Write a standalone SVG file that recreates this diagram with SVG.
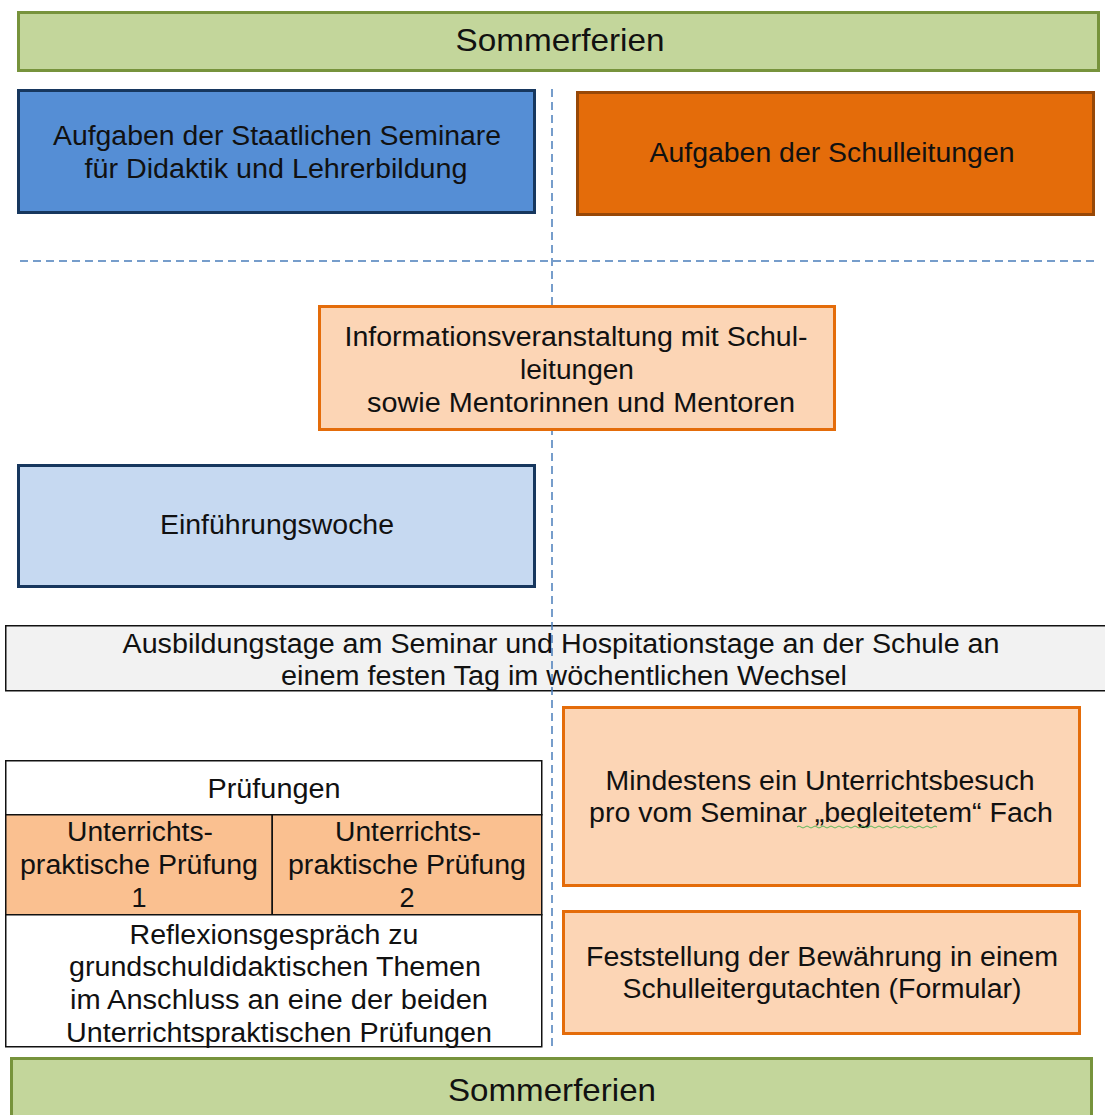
<svg xmlns="http://www.w3.org/2000/svg" width="1105" height="1115" viewBox="0 0 1105 1115">
<style>
text{font-family:"Liberation Sans",Arial,sans-serif;font-size:27px;fill:#111;text-anchor:middle}
.green{fill:#c3d69b;stroke:#77933c;stroke-width:3}
.dblue{fill:#558ed5;stroke:#17375e;stroke-width:3}
.lblue{fill:#c6d9f1;stroke:#17375e;stroke-width:3}
.dorange{fill:#e46c0a;stroke:#984807;stroke-width:3}
.lorange{fill:#fcd5b5;stroke:#e46c0a;stroke-width:3}
.grey{fill:#f2f2f2;stroke:#111;stroke-width:1.5}
.cell{fill:#fff;stroke:#111;stroke-width:1.5}
.ocell{fill:#fac090;stroke:#111;stroke-width:1.5}
.dash{stroke:#4a7ebb;stroke-width:1.5;stroke-dasharray:8 5;fill:none}
.big{font-size:32px}
</style>
<g id="sommer-top"><rect class="green" x="18.5" y="12.5" width="1080" height="58"/><text class="big" x="560" y="51" textLength="209" lengthAdjust="spacingAndGlyphs">Sommerferien</text></g>
<g id="seminare"><rect class="dblue" x="18.5" y="90.5" width="516" height="122"/><text x="277" y="145" textLength="448" lengthAdjust="spacingAndGlyphs">Aufgaben der Staatlichen  Seminare</text><text x="276" y="178" textLength="383" lengthAdjust="spacingAndGlyphs">für Didaktik und Lehrerbildung</text></g>
<g id="schulleitungen"><rect class="dorange" x="577.5" y="92.5" width="516" height="122"/><text x="832" y="162" textLength="365" lengthAdjust="spacingAndGlyphs">Aufgaben der Schulleitungen</text></g>
<g id="ausbildungstage"><rect class="grey" x="5.75" y="625.75" width="1105" height="65"/><text x="561" y="653" textLength="877" lengthAdjust="spacingAndGlyphs">Ausbildungstage am Seminar und Hospitationstage an der Schule an</text><text x="564" y="685" textLength="566" lengthAdjust="spacingAndGlyphs">einem festen Tag im wöchentlichen Wechsel</text></g>
<g id="connectors"><line class="dash" x1="552" y1="89" x2="552" y2="1050"/><line class="dash" x1="20" y1="261" x2="1095" y2="261"/></g>
<g id="info"><rect class="lorange" x="319.5" y="306.5" width="515" height="123"/><text x="576" y="346" textLength="463" lengthAdjust="spacingAndGlyphs">Informationsveranstaltung  mit Schul-</text><text x="577" y="379" textLength="114" lengthAdjust="spacingAndGlyphs">leitungen</text><text x="581" y="412" textLength="428" lengthAdjust="spacingAndGlyphs">sowie Mentorinnen und Mentoren</text></g>
<g id="einfuehrung"><rect class="lblue" x="18.5" y="465.5" width="516" height="121"/><text x="277" y="534" textLength="234" lengthAdjust="spacingAndGlyphs">Einführungswoche</text></g>
<g id="pruefungen">
<rect class="cell" x="5.75" y="760.75" width="536" height="54"/>
<rect class="ocell" x="5.75" y="814.75" width="266.5" height="100"/>
<rect class="ocell" x="272.25" y="814.75" width="269.5" height="100"/>
<rect class="cell" x="5.75" y="914.75" width="536" height="132"/>
<text x="274" y="798" textLength="133" lengthAdjust="spacingAndGlyphs">Prüfungen</text>
<text x="140" y="841" textLength="146" lengthAdjust="spacingAndGlyphs">Unterrichts-</text>
<text x="139" y="874" textLength="238" lengthAdjust="spacingAndGlyphs">praktische Prüfung</text>
<text x="139" y="907">1</text>
<text x="408" y="841" textLength="146" lengthAdjust="spacingAndGlyphs">Unterrichts-</text>
<text x="407" y="874" textLength="238" lengthAdjust="spacingAndGlyphs">praktische Prüfung</text>
<text x="407" y="907">2</text>
<text x="274" y="944" textLength="289" lengthAdjust="spacingAndGlyphs">Reflexionsgespräch zu</text>
<text x="275" y="976" textLength="412" lengthAdjust="spacingAndGlyphs">grundschuldidaktischen Themen</text>
<text x="279" y="1009" textLength="418" lengthAdjust="spacingAndGlyphs">im Anschluss an eine der beiden</text>
<text x="279" y="1042" textLength="426" lengthAdjust="spacingAndGlyphs">Unterrichtspraktischen Prüfungen</text>
</g>
<g id="unterrichtsbesuch"><rect class="lorange" x="563.5" y="707.5" width="516" height="178"/><text x="820" y="790" textLength="429" lengthAdjust="spacingAndGlyphs">Mindestens ein Unterrichtsbesuch</text><text x="821" y="822" textLength="464" lengthAdjust="spacingAndGlyphs">pro vom Seminar „begleitetem“ Fach</text><path d="M797 827 q2 -2 4 0 t4 0 t4 0 t4 0 t4 0 t4 0 t4 0 t4 0 t4 0 t4 0 t4 0 t4 0 t4 0 t4 0 t4 0 t4 0 t4 0 t4 0 t4 0 t4 0 t4 0 t4 0 t4 0 t4 0 t4 0 t4 0 t4 0 t4 0 t4 0 t4 0 t4 0 t4 0 t4 0 t4 0 t4 0" fill="none" stroke="#5cb85c" stroke-width="1"/></g>
<g id="bewaehrung"><rect class="lorange" x="563.5" y="911.5" width="516" height="122"/><text x="822" y="966" textLength="472" lengthAdjust="spacingAndGlyphs">Feststellung der Bewährung  in einem</text><text x="822" y="998" textLength="399" lengthAdjust="spacingAndGlyphs">Schulleitergutachten  (Formular)</text></g>
<g id="sommer-bottom"><rect class="green" x="11.5" y="1058.5" width="1080" height="70"/><text class="big" x="552" y="1101" textLength="208" lengthAdjust="spacingAndGlyphs">Sommerferien</text></g>
</svg>
